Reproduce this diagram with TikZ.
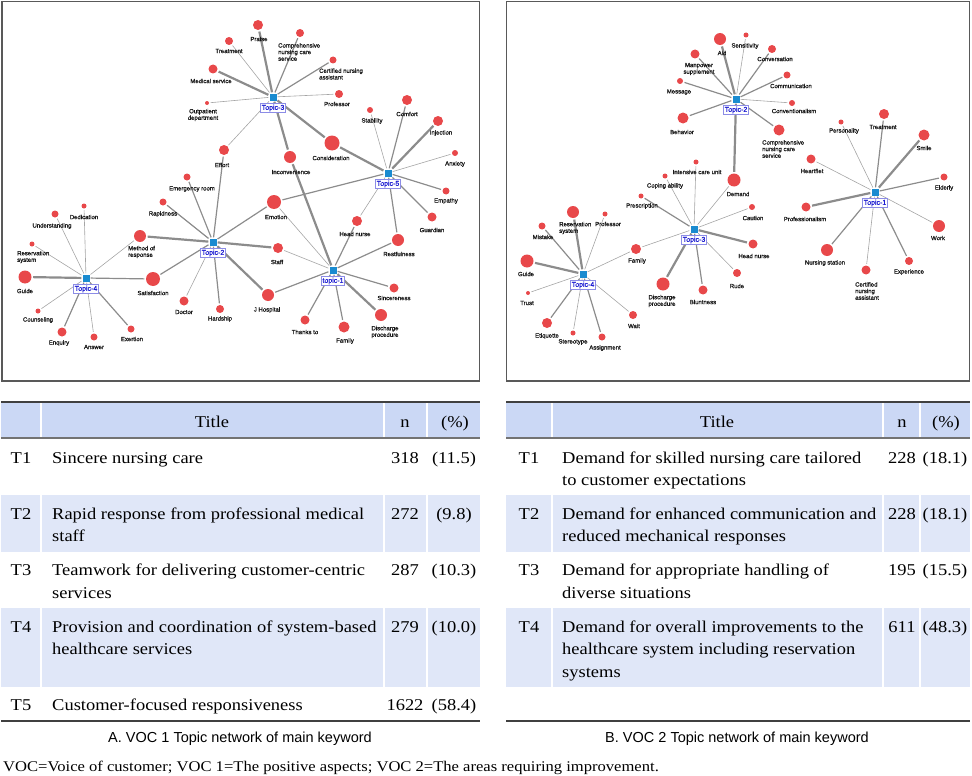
\documentclass[tikz,border=0pt]{standalone}
\usepackage{fontspec}
\newfontfamily\labfontfam{Liberation Sans}[FakeBold=1.2]
\newfontfamily\capfontfam{Liberation Sans}
\newfontfamily\palfont{Liberation Serif}[FakeStretch=1.12]
\newcommand\tsz{16.5}
\newcommand\fsz{14.8}
\definecolor{kwred}{RGB}{232,72,74}
\definecolor{tpblue}{RGB}{26,139,208}
\definecolor{tptext}{RGB}{30,30,210}
\definecolor{tpbord}{RGB}{140,140,230}
\definecolor{hdrc}{RGB}{203,216,245}
\definecolor{rowc}{RGB}{224,231,248}
\definecolor{edgec}{RGB}{140,140,140}
\definecolor{edgel}{RGB}{165,165,165}
\pgfdeclarelayer{bg}
\pgfsetlayers{bg,main}
\newcommand\kw[8][]{\node[kw=#5] (#2) at (#3,#4) {}; \node[lab,#1] (l#2) at (#6,#7) {#8};}
\newcommand\tp[4]{\node[topicsq] (#1) at (#2,#3) {}; \node[tplab] (l#1) at (#2,#3+11) {#4};}
\newcommand\ed[3]{\draw[#1] (#2) -- (#3);}
\begin{document}
\begin{tikzpicture}[x=1pt,y=-1pt,
  kw/.style={circle,fill=kwred,draw=none,inner sep=0pt,minimum size=#1},
  lab/.style={font=\labfontfam\fontsize{6}{6.6}\selectfont,align=center,inner sep=0pt,text=black!90},
  topicsq/.style={rectangle,fill=tpblue,draw=none,inner sep=0pt,minimum size=7},
  tplab/.style={draw=tpbord,fill=white,text=tptext,font=\labfontfam\fontsize{7}{8}\selectfont,inner sep=1.2pt,line width=0.6pt},
  e1/.style={draw=edgel,line width=0.6pt,shorten <=1pt,shorten >=1.5pt},
  e2/.style={draw=edgec,line width=1.2pt,shorten <=1pt,shorten >=1.5pt},
  e3/.style={draw=edgec,line width=2.2pt,shorten <=1pt,shorten >=1.5pt},
  frame/.style={draw=black!65,line width=1.8pt},
  tt/.style={font=\palfont\fontsize{\tsz}{18}\selectfont,inner sep=0pt,anchor=base},
  ttl/.style={tt,anchor=base west},
  rulea/.style={draw=black!75,line width=1.3pt},
  ruleb/.style={draw=black!55,line width=1.6pt},
  sep/.style={draw=white,line width=1.5pt}]
\useasboundingbox (0,0) rectangle (972,776);
\draw[frame] (2,1.5) rectangle (479.5,381);
\draw[frame] (506.5,1.5) rectangle (969.5,381);

% ---------- Left network ----------
\tp{ta3}{273}{97}{Topic-3}
\tp{ta5}{388}{173}{Topic-5}
\tp{ta2}{213}{242}{Topic-2}
\tp{ta4}{86}{278}{Topic-4}
\tp{ta1}{333}{270}{topic-1}

\kw{a-treat}{229}{41}{8}{229}{51}{Treatment}
\kw{a-med}{213}{69}{9}{211}{81}{Medical service}
\kw{a-outp}{207}{103}{4}{203}{115}{Outpatient\\department}
\kw{a-effort}{224}{150}{10}{222}{165}{Effort}
\kw{a-emer}{187}{177}{7}{192}{189}{Emergency room}
\kw{a-praise}{258}{25}{10}{259}{39}{Praise}
\kw[anchor=west,align=left]{a-comp}{300}{33}{8}{278}{52}{Comprehensive\\nursing care\\service}
\kw[anchor=west,align=left]{a-cert}{333}{60}{7}{319}{74}{Certified nursing\\assistant}
\kw{a-prof}{339}{94}{8}{337}{104}{Professor}
\kw{a-stab}{370}{110}{6}{372}{121}{Stability}
\kw{a-comf}{407}{100}{10}{407}{114}{Comfort}
\kw{a-inj}{438}{121}{10}{441}{133}{Injection}
\kw{a-cons}{332}{143}{15}{331}{158}{Consideration}
\kw{a-inc}{290}{157}{12}{291}{172}{Inconvenience}
\kw{a-anx}{455}{153}{6}{455}{164}{Anxiety}
\kw{a-emp}{446}{191}{7}{446}{201}{Empathy}
\kw{a-ded}{84}{206}{5}{84}{217}{Dedication}
\kw{a-und}{55}{214}{7}{52}{226}{Understanding}
\kw[anchor=west,align=left]{a-res}{32}{244}{5}{17}{257}{Reservation\\system}
\kw{a-guide}{25}{277}{13}{25}{291}{Guide}
\kw[anchor=west,align=left]{a-meth}{140}{236}{12}{128}{252}{Method of\\response}
\kw{a-rapid}{163}{202}{7}{163}{214}{Rapidness}
\kw{a-satis}{153}{279}{14}{153}{293}{Satisfaction}
\kw{a-couns}{38}{311}{5}{38}{320}{Counseling}
\kw{a-enq}{62}{332}{9}{59}{343}{Enquiry}
\kw{a-ans}{94}{337}{7}{94}{347}{Answer}
\kw{a-exer}{131}{329}{7}{132}{339}{Exertion}
\kw{a-doc}{184}{301}{9}{184}{312}{Doctor}
\kw{a-hard}{220}{309}{8}{220}{319}{Hardship}
\kw{a-emo}{274}{202}{14}{276}{217}{Emotion}
\kw{a-head}{357}{221}{10}{355}{234}{Head nurse}
\kw{a-rest}{398}{240}{12}{399}{254}{Restfulness}
\kw{a-guard}{432}{217}{9}{432}{230}{Guardian}
\kw{a-staff}{278}{248}{10}{277}{262}{Staff}
\kw{a-sinc}{394}{288}{9}{394}{298}{Sincereness}
\kw{a-jh}{268}{295}{12}{267}{310}{J Hospital}
\kw{a-thanks}{305}{320}{9}{305}{332}{Thanks to}
\kw{a-fam}{344}{327}{11}{345}{341}{Family}
\kw{a-dis}{381}{315}{12}{385}{332}{Discharge\\procedure}

% ---------- Right network ----------
\tp{tb2}{736}{99}{Topic-2}
\tp{tb3}{694}{229}{Topic-3}
\tp{tb4}{583}{274}{Topic-4}
\tp{tb1}{875}{192}{Topic-1}

\kw{b-aid}{720}{39}{12}{722}{53}{Aid}
\kw{b-man}{695}{54}{9}{699}{69}{Manpower\\supplement}
\kw{b-msg}{680}{81}{6}{679}{92}{Message}
\kw{b-beh}{683}{118}{11}{682}{132}{Behavior}
\kw{b-sens}{746}{35}{5}{745}{46}{Sensitivity}
\kw{b-conv}{772}{49}{8}{775}{59}{Conversation}
\kw{b-comm}{787}{75}{7}{791}{86}{Communication}
\kw{b-conven}{792}{103}{6}{794}{111}{Conventionalism}
\kw[anchor=west,align=left]{b-comp}{779}{130}{11}{762}{149}{Comprehensive\\nursing care\\service}
\kw{b-icu}{696}{162}{5}{697}{172}{Intensive care unit}
\kw{b-cope}{665}{176}{5}{665}{186}{Coping ability}
\kw{b-dem}{734}{180}{13}{738}{194}{Demand}
\kw{b-pers}{841}{122}{5}{844}{131}{Personality}
\kw{b-treat}{884}{114}{10}{883}{127}{Treatment}
\kw{b-smile}{924}{135}{11}{924}{148}{Smile}
\kw{b-heart}{811}{159}{9}{812}{171}{Heartflet}
\kw{b-eld}{944}{177}{7}{944}{188}{Elderly}
\kw{b-presc}{641}{196}{5}{642}{206}{Prescription}
\kw[anchor=west,align=left]{b-res}{573}{212}{12}{559}{228}{Reservation\\system}
\kw{b-prof}{605}{214}{5}{608}{224}{Professor}
\kw{b-mist}{542}{226}{7}{543}{237}{Mistake}
\kw{b-guide}{527}{261}{13}{526}{274}{Guide}
\kw{b-fam}{636}{249}{10}{637}{261}{Family}
\kw{b-trust}{528}{293}{4}{527}{303}{Trust}
\kw{b-dis}{663}{284}{13}{662}{301}{Discharge\\procedure}
\kw{b-blunt}{703}{290}{9}{703}{302}{Bluntness}
\kw{b-etiq}{547}{323}{10}{547}{336}{Etiquette}
\kw{b-stereo}{573}{333}{5}{573}{342}{Stereotype}
\kw{b-assign}{602}{337}{7}{605}{348}{Assignment}
\kw{b-wait}{633}{315}{8}{634}{326}{Wait}
\kw{b-caut}{752}{207}{6}{753}{218}{Caution}
\kw{b-head}{753}{244}{9}{754}{256}{Head nurse}
\kw{b-rude}{737}{273}{8}{737}{286}{Rude}
\kw{b-prof1}{806}{207}{9}{805}{219}{Professionalism}
\kw{b-work}{939}{226}{12}{938}{238}{Work}
\kw{b-nurs}{827}{250}{12}{825}{263}{Nursing station}
\kw[anchor=west,align=left]{b-cert}{866}{270}{9}{855}{291}{Certified\\nursing\\assistant}
\kw{b-exp}{909}{261}{8}{909}{272}{Experience}

\begin{pgfonlayer}{bg}
% left
\ed{e1}{ta3}{a-treat}\ed{e3}{ta3}{a-med}\ed{e1}{ta3}{a-outp}\ed{e3}{ta3}{a-praise}
\ed{e2}{ta3}{a-comp}\ed{e2}{ta3}{a-cert}\ed{e1}{ta3}{a-prof}\ed{e1}{ta3}{a-effort}
\ed{e3}{ta3}{a-inc}\ed{e3}{ta3}{a-cons}
\ed{e1}{ta5}{a-stab}\ed{e2}{ta5}{a-comf}\ed{e3}{ta5}{a-inj}\ed{e1}{ta5}{a-anx}
\ed{e2}{ta5}{a-emp}\ed{e2}{ta5}{a-guard}\ed{e2}{ta5}{a-rest}\ed{e1}{ta5}{a-head}
\ed{e2}{ta5}{a-emo}\ed{e3}{ta5}{a-cons}
\ed{e2}{ta2}{a-effort}\ed{e2}{ta2}{a-emer}\ed{e2}{ta2}{a-rapid}\ed{e3}{ta2}{a-meth}
\ed{e2}{ta2}{a-satis}\ed{e1}{ta2}{a-doc}\ed{e2}{ta2}{a-hard}\ed{e2}{ta2}{a-emo}
\ed{e3}{ta2}{a-staff}\ed{e3}{ta2}{a-jh}
\ed{e1}{ta4}{a-ded}\ed{e1}{ta4}{a-und}\ed{e1}{ta4}{a-res}\ed{e3}{ta4}{a-guide}
\ed{e1}{ta4}{a-couns}\ed{e2}{ta4}{a-enq}\ed{e1}{ta4}{a-ans}\ed{e2}{ta4}{a-exer}
\ed{e1}{ta4}{a-meth}\ed{e2}{ta4}{a-satis}
\ed{e1}{ta1}{a-emo}\ed{e1}{ta1}{a-staff}\ed{e2}{ta1}{a-jh}\ed{e2}{ta1}{a-thanks}
\ed{e2}{ta1}{a-fam}\ed{e3}{ta1}{a-dis}\ed{e2}{ta1}{a-sinc}\ed{e2}{ta1}{a-rest}
\ed{e2}{ta1}{a-head}\ed{e3}{ta1}{a-inc}
% right
\ed{e3}{tb2}{b-aid}\ed{e2}{tb2}{b-man}\ed{e2}{tb2}{b-msg}\ed{e2}{tb2}{b-beh}
\ed{e1}{tb2}{b-sens}\ed{e2}{tb2}{b-conv}\ed{e2}{tb2}{b-comm}\ed{e1}{tb2}{b-conven}
\ed{e2}{tb2}{b-comp}\ed{e3}{tb2}{b-dem}
\ed{e1}{tb3}{b-icu}\ed{e1}{tb3}{b-cope}\ed{e2}{tb3}{b-presc}\ed{e1}{tb3}{b-dem}
\ed{e1}{tb3}{b-caut}\ed{e3}{tb3}{b-head}\ed{e1}{tb3}{b-rude}\ed{e2}{tb3}{b-blunt}
\ed{e3}{tb3}{b-dis}\ed{e1}{tb3}{b-fam}
\ed{e1}{tb1}{b-pers}\ed{e2}{tb1}{b-treat}\ed{e3}{tb1}{b-smile}\ed{e1}{tb1}{b-heart}
\ed{e2}{tb1}{b-eld}\ed{e3}{tb1}{b-prof1}\ed{e1}{tb1}{b-work}\ed{e2}{tb1}{b-nurs}
\ed{e1}{tb1}{b-cert}\ed{e2}{tb1}{b-exp}
\ed{e3}{tb4}{b-res}\ed{e1}{tb4}{b-prof}\ed{e2}{tb4}{b-mist}\ed{e3}{tb4}{b-guide}
\ed{e1}{tb4}{b-trust}\ed{e2}{tb4}{b-etiq}\ed{e1}{tb4}{b-stereo}\ed{e2}{tb4}{b-assign}
\ed{e1}{tb4}{b-wait}\ed{e1}{tb4}{b-fam}
\end{pgfonlayer}

% ---------- Tables ----------
\fill[hdrc] (1,402) rectangle (480,438);
\fill[rowc] (1,495) rectangle (480,552);
\fill[rowc] (1,608) rectangle (480,687);
\fill[hdrc] (506,402) rectangle (970,438);
\fill[rowc] (506,495) rectangle (970,552);
\fill[rowc] (506,608) rectangle (970,687);
\foreach \x in {41,384,427,552,883,920}{
  \draw[sep] (\x,402) -- (\x,438) (\x,495) -- (\x,552) (\x,608) -- (\x,687);}
\draw[rulea] (1,402) -- (480,402);
\draw[ruleb] (1,438) -- (480,438);
\draw[rulea] (1,721) -- (480,721);
\draw[rulea] (506,402) -- (970,402);
\draw[ruleb] (506,438) -- (970,438);
\draw[rulea] (506,721) -- (970,721);

% left table text
\node[tt] (ah1) at (212,427) {Title};
\node[tt] (ah2) at (405,427) {n};
\node[tt] (ah3) at (455,427) {(\%)};
\node[tt] (a1id) at (21,463) {T1};
\node[ttl] (a1t) at (52,463) {Sincere nursing care};
\node[tt] (a1n) at (405,463) {318};
\node[tt] (a1p) at (454,463) {(11.5)};
\node[tt] (a2id) at (21,519) {T2};
\node[ttl] (a2t) at (52,519) {Rapid response from professional medical};
\node[ttl] (a2u) at (52,541.5) {staff};
\node[tt] (a2n) at (405,519) {272};
\node[tt] (a2p) at (454,519) {(9.8)};
\node[tt] (a3id) at (21,575.5) {T3};
\node[ttl] (a3t) at (52,575.5) {Teamwork for delivering customer-centric};
\node[ttl] (a3u) at (52,598) {services};
\node[tt] (a3n) at (405,575.5) {287};
\node[tt] (a3p) at (454,575.5) {(10.3)};
\node[tt] (a4id) at (21,632) {T4};
\node[ttl] (a4t) at (52,632) {Provision and coordination of system-based};
\node[ttl] (a4u) at (52,654.5) {healthcare services};
\node[tt] (a4n) at (405,632) {279};
\node[tt] (a4p) at (454,632) {(10.0)};
\node[tt] (a5id) at (21,710) {T5};
\node[ttl] (a5t) at (52,710) {Customer-focused responsiveness};
\node[tt] (a5n) at (405,710) {1622};
\node[tt] (a5p) at (454,710) {(58.4)};

% right table text
\node[tt] (bh1) at (717,427) {Title};
\node[tt] (bh2) at (902,427) {n};
\node[tt] (bh3) at (946,427) {(\%)};
\node[tt] (b1id) at (529,463) {T1};
\node[ttl] (b1t) at (562,463) {Demand for skilled nursing care tailored};
\node[ttl] (b1u) at (562,485.5) {to customer expectations};
\node[tt] (b1n) at (902,463) {228};
\node[tt] (b1p) at (945,463) {(18.1)};
\node[tt] (b2id) at (529,519) {T2};
\node[ttl] (b2t) at (562,519) {Demand for enhanced communication and};
\node[ttl] (b2u) at (562,541.5) {reduced mechanical responses};
\node[tt] (b2n) at (902,519) {228};
\node[tt] (b2p) at (945,519) {(18.1)};
\node[tt] (b3id) at (529,575.5) {T3};
\node[ttl] (b3t) at (562,575.5) {Demand for appropriate handling of};
\node[ttl] (b3u) at (562,598) {diverse situations};
\node[tt] (b3n) at (902,575.5) {195};
\node[tt] (b3p) at (945,575.5) {(15.5)};
\node[tt] (b4id) at (529,632) {T4};
\node[ttl] (b4t) at (562,632) {Demand for overall improvements to the};
\node[ttl] (b4u) at (562,654.5) {healthcare system including reservation};
\node[ttl] (b4v) at (562,677) {systems};
\node[tt] (b4n) at (902,632) {611};
\node[tt] (b4p) at (945,632) {(48.3)};

% captions
\node[font=\capfontfam\fontsize{14.5}{16}\selectfont,inner sep=0pt,anchor=base] (capa) at (240,742) {A. VOC 1 Topic network of main keyword};
\node[font=\capfontfam\fontsize{14.5}{16}\selectfont,inner sep=0pt,anchor=base] (capb) at (737,742) {B. VOC 2 Topic network of main keyword};
\node[font=\palfont\fontsize{\fsz}{16}\selectfont,inner sep=0pt,anchor=base west] (foot) at (3,771) {VOC=Voice of customer; VOC 1=The positive aspects; VOC 2=The areas requiring improvement.};
\end{tikzpicture}
\end{document}
